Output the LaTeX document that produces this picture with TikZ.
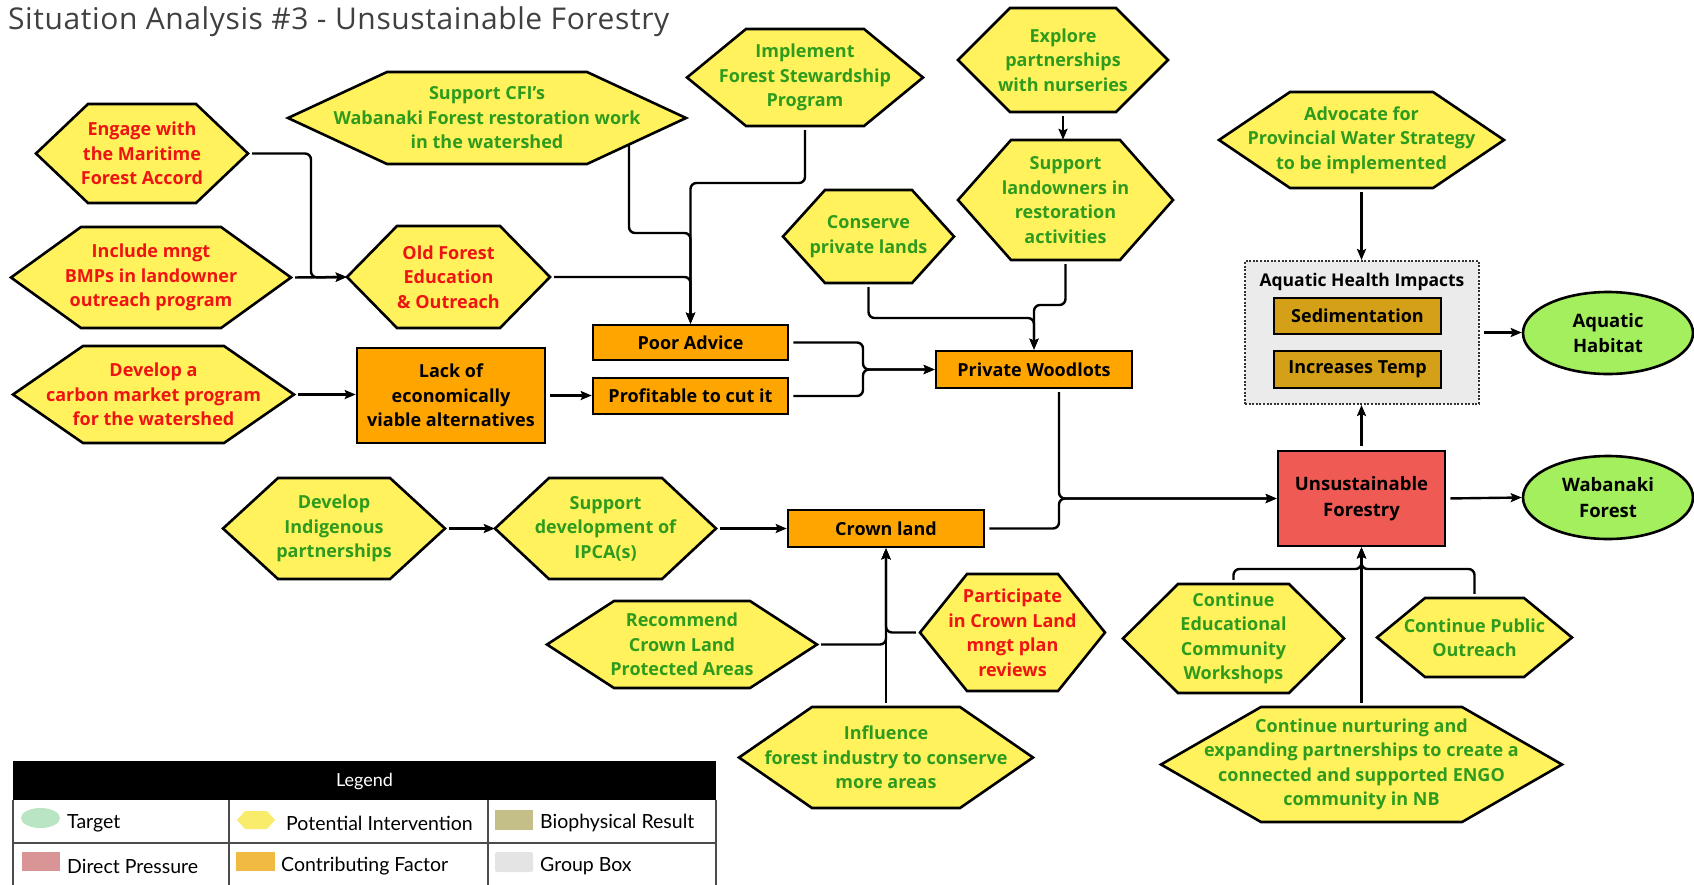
\documentclass[tikz,border=0pt]{standalone}
\usepackage{fontspec}
\setmainfont{Open Sans}
\newfontfamily\legendfont{Lato}
\usetikzlibrary{arrows.meta,calc,shapes.geometric}

\definecolor{hexyellow}{HTML}{FFF25C}
\definecolor{actgreen}{HTML}{2E9B1F}
\definecolor{actred}{HTML}{EE1414}
\definecolor{factor}{HTML}{FFA500}
\definecolor{pressure}{HTML}{F05A54}
\definecolor{biores}{HTML}{D3A017}
\definecolor{groupgray}{HTML}{EBEBEB}
\definecolor{target}{HTML}{A4EF5E}
\definecolor{titlegray}{HTML}{404040}
\definecolor{lgtarget}{HTML}{B9E5C5}
\definecolor{lghex}{HTML}{F9EC6A}
\definecolor{lgbio}{HTML}{C4BF88}
\definecolor{lgpress}{HTML}{D99595}
\definecolor{lgfactor}{HTML}{F0BA43}
\definecolor{lggroup}{HTML}{E4E4E4}

% hexagon: name, cx, cy, half width, half height, slant, text colour, text
\newcommand\hexnode[8]{%
  \filldraw[fill=hexyellow, draw=black, line width=2.6pt, line join=miter]
    ({#2-#4},#3) -- ({#2-#4+#6},{#3-#5}) -- ({#2+#4-#6},{#3-#5})
    -- ({#2+#4},#3) -- ({#2+#4-#6},{#3+#5}) -- ({#2-#4+#6},{#3+#5}) -- cycle;
  \node[hextext, text=#7, minimum width={2*#4pt}, minimum height={2*#5pt}] (#1) at (#2,#3) {#8};
}

\begin{document}
\begin{tikzpicture}[x=1pt,y=-1pt,
  hextext/.style={align=center, inner sep=0pt, font=\fontsize{18}{24.5}\selectfont\bfseries},
  factorbox/.style={draw=black, line width=2.6pt, fill=factor, align=center, inner sep=0pt,
    font=\fontsize{18}{24.5}\selectfont\bfseries},
  biobox/.style={factorbox, fill=biores},
  targetnode/.style={ellipse, draw=black, line width=2.6pt, fill=target, align=center, inner sep=0pt,
    font=\fontsize{18.5}{25.5}\selectfont\bfseries},
  conn/.style={line width=2.4pt, rounded corners=6pt, shorten <=4pt, -{Stealth[length=11pt,width=9pt,inset=2pt]}},
  legtext/.style={anchor=west, inner sep=0pt, font=\legendfont\fontsize{19.5}{23}\selectfont},
  legline/.style={draw=black!70, line width=1.2pt}
]
\useasboundingbox (0,0) rectangle (1694,884);
\begin{scope}
\clip (0,0) rectangle (1694,884);

% title
\node[anchor=west, inner sep=0pt, text=titlegray, font=\fontsize{30}{34}\selectfont\addfontfeature{LetterSpace=2}] (title) at (8,22)
  {Situation Analysis \#3 - Unsustainable Forestry};

% potential interventions
\hexnode{eng}{142}{153.5}{106}{49.5}{52}{actred}{Engage with\\the Maritime\\Forest Accord}
\hexnode{inc}{151}{277.5}{140}{50.5}{70}{actred}{Include mngt\\BMPs in landowner\\outreach program}
\hexnode{carb}{153.5}{394.5}{140.5}{48.5}{70}{actred}{Develop a\\carbon market program\\for the watershed}
\hexnode{cfi}{487}{118}{199}{46}{99}{actgreen}{Support CFI's\\Wabanaki Forest restoration work\\in the watershed}
\hexnode{old}{448.5}{277}{101.5}{51}{50}{actred}{Old Forest\\Education\\\& Outreach}
\hexnode{fsp}{805}{77.5}{118}{48.5}{59}{actgreen}{Implement\\Forest Stewardship\\Program}
\hexnode{nurs}{1063}{60}{105}{52}{52}{actgreen}{Explore\\partnerships\\with nurseries}
\hexnode{land}{1065.5}{200}{107.5}{60}{53}{actgreen}{Support\\landowners in\\restoration\\activities}
\hexnode{cons}{868.5}{236.5}{85.5}{46.5}{42}{actgreen}{Conserve\\private lands}
\hexnode{adv}{1361.5}{140}{142.5}{48}{71}{actgreen}{Advocate for\\Provincial Water Strategy\\to be implemented}
\hexnode{ind}{334}{528.5}{111}{50.5}{55}{actgreen}{Develop\\Indigenous\\partnerships}
\hexnode{ipca}{605.5}{528.5}{110.5}{50.5}{54}{actgreen}{Support\\development of\\IPCA(s)}
\hexnode{rec}{682}{644.5}{135}{43.5}{67}{actgreen}{Recommend\\Crown Land\\Protected Areas}
\hexnode{part}{1012.5}{632.5}{92.5}{58.5}{47}{actred}{Participate\\in Crown Land\\mngt plan\\reviews}
\hexnode{infl}{886}{757.5}{147}{50.5}{73}{actgreen}{Influence\\forest industry to conserve\\more areas}
\hexnode{cew}{1233.5}{638.5}{110.5}{54.5}{55}{actgreen}{Continue\\Educational\\Community\\Workshops}
\hexnode{cpo}{1474.5}{637.5}{97.5}{39.5}{48}{actgreen}{Continue Public\\Outreach}
\hexnode{nur}{1361.5}{764.5}{200.5}{57.5}{100}{actgreen}{Continue nurturing and\\expanding partnerships to create a\\connected and supported ENGO\\community in NB}

% contributing factors
\node[factorbox, minimum width=195pt, minimum height=35pt] (poor) at (690.5,342.5) {Poor Advice};
\node[factorbox, minimum width=195pt, minimum height=36pt] (prof) at (690.5,396) {Profitable to cut it};
\node[factorbox, minimum width=188pt, minimum height=95pt] (lack) at (451,395.5) {Lack of\\economically\\viable alternatives};
\node[factorbox, minimum width=196pt, minimum height=37pt] (pw) at (1034,369.5) {Private Woodlots};
\node[factorbox, minimum width=196pt, minimum height=37pt] (crown) at (886,528.5) {Crown land};

% direct pressure
\node[factorbox, fill=pressure, minimum width=167pt, minimum height=95pt, font=\fontsize{18.5}{25.5}\selectfont\bfseries]
  (uf) at (1361.5,498.5) {Unsustainable\\Forestry};

% group box with biophysical results
\node[draw=black!80, fill=groupgray, line width=2pt, dash pattern=on 2pt off 1.6pt,
  minimum width=234pt, minimum height=143pt, inner sep=0pt] (grp) at (1362,332.5) {};
\node[inner sep=0pt, font=\fontsize{17.5}{21}\selectfont\bfseries] (grptitle) at (1362,282) {Aquatic Health Impacts};
\node[biobox, minimum width=167pt, minimum height=36pt] (sed) at (1357.5,316) {Sedimentation};
\node[biobox, minimum width=167pt, minimum height=37pt] (temp) at (1357.5,369.5) {Increases Temp};

% targets
\node[targetnode, minimum width=170pt, minimum height=82pt] (aqh) at (1608,333) {Aquatic\\Habitat};
\node[targetnode, minimum width=170pt, minimum height=83pt] (wab) at (1608,497.5) {Wabanaki\\Forest};

% turning points of the connectors
\coordinate (jEng) at (311,277.5);
\coordinate (tFsp) at (690.5,183);
\coordinate (cfiout) at (629,144);
\coordinate (tCfi) at (690.5,233);
\coordinate (tOld) at (690.5,277);
\coordinate (tPw) at (863,369.5);
\coordinate (tCons) at (1034,318);
\coordinate (tLand) at (1034,305);
\coordinate (pwout) at (1059,388);
\coordinate (tCrown) at (1059,498.5);
\coordinate (tCew) at (1361.5,569);

% connectors
\draw[conn] (eng.east) -| (jEng) -- (old.west);
\draw[conn] (inc.east) -- (old.west);
\draw[conn] (fsp.south) |- (tFsp) -- (poor.north);
\draw[conn, shorten <=0pt] (cfiout) |- (tCfi) -- (poor.north);
\draw[conn] (old.east) -- (tOld) -- (poor.north);
\draw[conn] (carb.east) -- (carb.east -| lack.west);
\draw[conn] (lack.east) -- (lack.east -| prof.west);
\draw[conn] (poor.east) -| (tPw) -- (pw.west);
\draw[conn] (prof.east) -| (tPw) -- (pw.west);
\draw[conn] (cons.south) |- (tCons) -- (pw.north);
\draw[conn] (land.south) |- (tLand) -- (pw.north);
\draw[conn] (nurs.south) -- (nurs.south |- land.north);
\draw[conn] (adv.south) -- (adv.south |- grp.north);
\draw[conn] (grp.east) -- (grp.east -| aqh.west);
\draw[conn] (uf.north) -- (uf.north |- grp.south);
\draw[conn] (uf.east) -- (wab.west);
\draw[conn] (pwout) |- (uf.west);
\draw[conn] (crown.east) -| (tCrown) -- (uf.west);
\draw[conn] (ind.east) -- (ipca.west);
\draw[conn] (ipca.east) -- (ipca.east -| crown.west);
\draw[conn] (infl.north) -- (crown.south);
\draw[conn] (rec.east) -| (crown.south);
\draw[conn] (part.west) -| (crown.south);
\draw[conn] (nur.north) -- (uf.south);
\draw[conn] (cew.north) |- (tCew) -- (uf.south);
\draw[conn] (cpo.north) |- (tCew) -- (uf.south);

% legend
\fill[black] (13,761) rectangle (716,800);
\node[text=white, inner sep=0pt, font=\legendfont\fontsize{18}{21}\selectfont] (leghead) at (364.5,781) {Legend};
\draw[legline] (13,800) -- (13,890) (716,800) -- (716,890)
  (229,800) -- (229,890) (488,800) -- (488,890) (13,843) -- (716,843);
\fill[lgtarget] (40.5,818) ellipse (19.5pt and 10pt);
\fill[lghex] (237,820) -- (245,811) -- (267,811) -- (275,820) -- (267,829) -- (245,829) -- cycle;
\fill[lgbio] (495,810) rectangle (533,830);
\fill[lgpress] (22,852) rectangle (60,871);
\fill[lgfactor] (236,852) rectangle (275,871);
\fill[lggroup, rounded corners=2pt] (495,852) rectangle (533,872);
\node[legtext] (lgA) at (67,823) {Target};
\node[legtext] (lgB) at (286,823) {Potential Intervention};
\node[legtext] (lgC) at (540,823) {Biophysical Result};
\node[legtext] (lgD) at (67,866) {Direct Pressure};
\node[legtext] (lgE) at (281,866) {Contributing Factor};
\node[legtext] (lgF) at (540,866) {Group Box};
\end{scope}
\end{tikzpicture}
\end{document}
